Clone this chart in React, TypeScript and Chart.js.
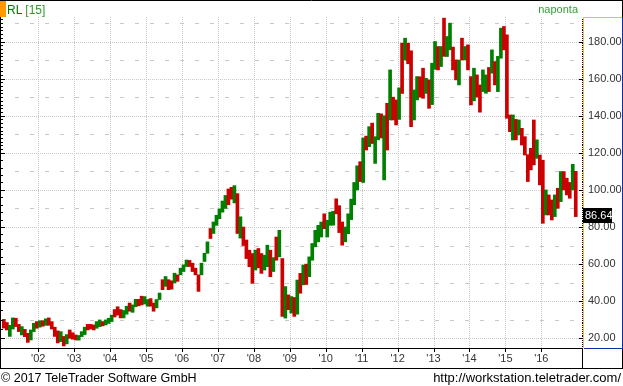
import { useEffect, useRef } from 'react';
import { Chart, registerables } from 'chart.js';

Chart.register(...registerables);

// ---- data (monthly OHLC, Jan 2001 .. Dec 2016) ----
const startYear = 2001;
const yearTicks = [2002, 2003, 2004, 2005, 2006, 2007, 2008, 2009, 2010, 2011, 2012, 2013, 2014, 2015, 2016];
const yearLabels = ["'02", "'03", "'04", "'05", "'06", "'07", "'08", "'09", "'10", "'11", "'12", "'13", "'14", "'15", "'16"];
const priceTicks = [20, 40, 60, 80, 100, 120, 140, 160, 180];
const halfTicks = [30, 50, 70, 90, 110, 130, 150, 170, 190];
const lastPrice = 86.64;
const symbolText = 'RL';
const symbolSuffix = '[15]';
const periodText = 'naponta';
const copyrightText = '\u00A9 2017 TeleTrader Software GmbH';
const urlText = 'http://workstation.teletrader.com/';

const lows = [
  25.5, 24.5, 21, 25, 26.3, 23.6, 21.8, 20.9, 17.8, 19.1, 23.6, 25.4,
  26, 26.5, 27, 27, 25, 21, 17.5, 18.2, 15.9, 17, 20, 19.5,
  19.1, 19, 20.9, 22, 24.5, 25, 24.5, 25.4, 26.3, 26.7, 27.2, 28,
  29, 31.5, 32.5, 31, 31, 33, 34.6, 34, 37, 37.5, 38, 38.5,
  37.3, 37.3, 34.6, 36.4, 40.9, 46.2, 48, 46.2, 46.5, 49.8, 50.7, 54.2,
  56, 58.7, 58.7, 56, 54.2, 45.3, 54.2, 61.4, 65.8, 73.8, 76.5, 80.9,
  84.5, 88, 90, 92, 95, 93, 76.5, 74, 70, 63, 58.6, 49.6,
  56.8, 58, 55, 56.8, 58.6, 53.2, 56, 62.1, 63.9, 31.8, 30.9, 35.4,
  33.6, 31.8, 33, 44.3, 48.8, 49, 53.2, 62.1, 69.3, 72, 74.6, 79.1,
  74.6, 80.9, 81, 87.1, 77, 70.2, 72, 76.4, 84, 92, 100, 104.5,
  104, 121.5, 123.3, 125, 114.3, 127, 128, 105.4, 121.5, 137.7, 137.7, 135,
  138, 152, 170, 168, 134.1, 137.7, 148.5, 150, 149.4, 152, 144, 146,
  165, 164.7, 166.5, 172, 171.9, 175.5, 164.7, 159.3, 156.6, 170, 170.1, 164.7,
  145.8, 148, 150, 141.9, 153, 152.1, 153, 162.9, 156.6, 153, 171, 175.5,
  138.6, 131.4, 126.9, 127, 129.6, 124.2, 118.8, 104.5, 110.8, 113.5, 117, 102.7,
  82, 86.5, 86.5, 83.8, 85.6, 90.1, 93.7, 100, 97.3, 95.5, 100, 85.6,
];
const highs = [
  30.2, 28.5, 27, 31, 30.8, 27.5, 26.3, 24.8, 22.7, 24.5, 28.1, 29,
  29.5, 29.5, 30.5, 31, 29, 26, 24, 23.6, 21, 22, 24.5, 23,
  21.8, 21.5, 23.6, 26, 27.5, 27.5, 27.2, 29, 29.9, 29, 29.9, 30.8,
  32.5, 35.5, 37, 35.5, 35, 37.3, 39, 38, 41, 41, 42.7, 42.5,
  40.9, 41.4, 39, 40.9, 44.4, 51.6, 53.3, 51.6, 51, 55.1, 54.2, 57.8,
  59.6, 62.2, 62, 60.5, 57.8, 54.2, 60.5, 65.8, 72, 79.2, 82.7, 86.3,
  89.8, 94, 97, 100.5, 101.4, 102.3, 98, 85.5, 80, 73, 67.5, 65.7,
  67.5, 68.4, 65.7, 64.8, 70.2, 67.5, 63.5, 74.6, 78.2, 63, 47.9, 43.4,
  42.5, 42, 51.4, 55, 59.5, 60, 63.9, 71.1, 78.2, 80.9, 82.7, 87.1,
  83.6, 88, 88.5, 95.2, 91.5, 82.7, 80, 87.1, 95, 104, 113, 115.2,
  128, 129, 134.1, 136, 128.7, 141.3, 141, 140, 146.7, 164.7, 150, 148.5,
  155, 179.1, 181.8, 179.1, 175, 153.9, 161.1, 161, 165.6, 160.2, 159.3, 168.3,
  180, 177.3, 177.3, 192.6, 182.7, 189.9, 177, 170.1, 170, 181.8, 177.3, 178.2,
  161.1, 165.6, 162, 156.6, 164.7, 162, 166, 175.5, 169.2, 172, 187.2, 188.1,
  183.6, 140.4, 140.4, 138, 137.7, 133.2, 128.7, 119, 122.4, 137.7, 127, 118.8,
  116, 100, 97.3, 94.6, 97.3, 100.9, 109.9, 109.9, 106.3, 104, 113.8, 110,
];
const opens = [
  29.5, 27, 22.5, 26, 30, 27, 22.5, 24.5, 22, 19.5, 24, 28.5,
  26.5, 29, 27.5, 30.5, 28.5, 25.5, 23.5, 19, 20.5, 17.5, 24, 22.5,
  21.5, 19.5, 21, 22.5, 27, 27.2, 27, 25.5, 26.5, 28.8, 27.5, 28.2,
  29.5, 35, 36.5, 35, 31.5, 33.5, 38.5, 34.5, 37.5, 40.5, 42, 39,
  37.5, 41, 38.5, 36.5, 41, 51, 48.5, 51, 50.5, 50, 54, 54.5,
  56.5, 59, 61.5, 60, 57.5, 54, 54.5, 61.5, 66, 79, 77, 81,
  85, 88.5, 91, 100, 100.5, 96, 97.5, 75, 79.5, 72.5, 67, 65,
  58, 66, 64.5, 57.5, 60, 66, 56.5, 74, 64.5, 62.5, 38, 43,
  35, 41, 34, 54, 49.5, 59, 53.5, 63, 70, 73, 75.5, 86.5,
  75.5, 81.5, 82, 94.8, 91, 82, 72.5, 77, 85, 93, 103, 112,
  105, 128, 124, 135, 115, 128, 139, 110, 146, 139, 149, 147,
  139, 178, 171, 178.5, 174, 139, 150, 160, 164, 153, 158.5, 147,
  167, 176.5, 167, 190, 173, 176, 176, 169, 157.5, 181, 171, 177.5,
  160.5, 149, 161.5, 156, 153.5, 153, 165.5, 163.5, 169, 154, 172, 187,
  183, 139.5, 128, 137.5, 130, 133, 128, 118.5, 121.5, 136, 118, 118,
  101, 87, 96.5, 94, 86.5, 100, 94.5, 109, 105.5, 103, 101, 109,
];
const closes = [
  26.5, 25, 26.5, 30, 27, 24.5, 25.5, 21.5, 18.5, 24, 27.5, 26.5,
  29, 27, 30, 28, 25.5, 22, 18.5, 23, 16.5, 21.5, 21, 20,
  19.5, 21, 23.2, 25.5, 25, 25.5, 25, 28.5, 29.5, 27, 29.5, 30.5,
  32, 33.5, 33, 31.5, 34.5, 37, 35, 37.5, 40.5, 38, 38.5, 42,
  40.5, 38, 35, 40.5, 44, 47, 53, 46.5, 47, 54.5, 51, 57.5,
  59, 62, 59, 56.5, 54.5, 46.5, 60, 65.5, 71.5, 74.5, 82, 86,
  89.5, 93.5, 96.5, 93, 96, 101, 78, 84.5, 71, 64, 59.5, 55,
  66, 60, 56.5, 64, 68, 55, 63, 63.5, 77.5, 40, 44, 38,
  41.5, 33, 50.5, 46, 59, 51, 63.5, 70.5, 77.5, 80, 82, 81,
  83, 87.5, 88, 88.5, 79, 72, 79.5, 86.5, 94, 103, 110, 106,
  127, 123, 133, 127, 128, 140, 132, 138, 124, 160, 139, 138,
  154, 170, 180, 170, 140, 152, 160, 151, 152, 159, 146, 167.5,
  179, 167, 176.5, 176, 182, 189, 166, 161, 169, 173, 176.5, 166,
  147, 165, 152, 144, 164, 161, 155, 175, 158, 171, 186.5, 177,
  140, 133, 139, 129, 137, 125, 120, 105.5, 112, 118, 126, 104,
  88, 97, 89, 86, 96, 91.5, 109, 102, 98.5, 97, 111, 86.64,
];

const UP = '#008000';
const DOWN = '#cc0000';
const FONT = '"Liberation Sans", Arial, sans-serif';

const decor = {
  id: 'decor',
  beforeDraw(chart: any) {
    const { ctx, width, height } = chart;
    ctx.save();
    ctx.fillStyle = '#ffffff';
    ctx.fillRect(0, 0, width, height);
    ctx.restore();
  },
  beforeDatasetsDraw(chart: any) {
    const { ctx, chartArea: a, scales } = chart;
    const x = scales.x;
    const y = scales.y;
    ctx.save();
    ctx.strokeStyle = '#c8c8c8';
    ctx.lineWidth = 1;
    ctx.setLineDash([1, 1]);
    ctx.beginPath();
    for (const v of priceTicks) {
      const py = Math.round(y.getPixelForValue(v)) + 0.5;
      ctx.moveTo(a.left, py);
      ctx.lineTo(a.right, py);
    }
    for (const t of yearTicks) {
      const px = Math.round(x.getPixelForValue(t)) + 0.5;
      ctx.moveTo(px, 17);
      ctx.lineTo(px, a.bottom);
    }
    ctx.stroke();
    ctx.setLineDash([4, 11]);
    ctx.beginPath();
    for (const v of halfTicks) {
      const py = Math.round(y.getPixelForValue(v)) + 0.5;
      ctx.moveTo(a.left + 13, py);
      ctx.lineTo(a.right, py);
    }
    ctx.stroke();
    ctx.restore();
  },
  afterDraw(chart: any) {
    const { ctx, chartArea: a, scales, width } = chart;
    const x = scales.x;
    const y = scales.y;
    ctx.save();
    ctx.lineWidth = 1;
    ctx.setLineDash([]);
    const line = (x1: number, y1: number, x2: number, y2: number, c: string) => {
      ctx.strokeStyle = c;
      ctx.beginPath();
      ctx.moveTo(x1, y1);
      ctx.lineTo(x2, y2);
      ctx.stroke();
    };
    const R = a.right; // 583
    const B = a.bottom; // 348
    // outer frame
    line(0, 0.5, width, 0.5, '#000');
    line(0.5, 0, 0.5, B + 20, '#000');
    line(width - 0.5, 0, width - 0.5, 17, '#000');
    // x band
    line(0, B + 0.5, R, B + 0.5, '#000');
    line(0, B + 20.5, width, B + 20.5, '#000');
    line(R - 0.5, B, R - 0.5, B + 20, '#000');
    line(width - 0.5, B, width - 0.5, B + 21, '#000');
    // right axis panel
    line(R + 0.5, 17, R + 0.5, B, '#f0c030');
    line(R, 17.5, width, 17.5, '#f0c030');
    line(width - 0.5, 17, width - 0.5, B + 1, '#1030a0');
    line(R + 1, B + 0.5, width, B + 0.5, '#1030a0');
    // x ticks
    for (const t of yearTicks) {
      const px = Math.round(x.getPixelForValue(t)) + 0.5;
      line(px, B, px, B + 4, '#000');
    }
    // right minor ticks
    for (let v = 15; v <= 200; v += 1) {
      const py = Math.round(y.getPixelForValue(v)) + 0.5;
      if (py < 18) continue;
      const major = v % 20 === 0;
      line(major ? R - 4 : R - 1, py, R, py, '#000');
    }
    // left ticks
    for (let v = 15; v <= 200; v += 1) {
      const step = v < 60 ? 5 : v < 120 ? 4 : 2;
      if (v % step !== 0 && v % 20 !== 0) continue;
      const py = Math.round(y.getPixelForValue(v)) + 0.5;
      if (py < 18) continue;
      line(0, py, v % 20 === 0 ? 5 : 3, py, '#000');
    }
    // header
    ctx.fillStyle = '#ff9900';
    ctx.fillRect(0, 1, 6, 16);
    ctx.textBaseline = 'alphabetic';
    ctx.textAlign = 'left';
    ctx.font = `12px ${FONT}`;
    ctx.fillStyle = '#007800';
    ctx.fillText(symbolText, 7, 14);
    const w1 = ctx.measureText(symbolText).width + 3;
    ctx.fillStyle = '#2f9a2f';
    ctx.fillText(symbolSuffix, 7 + w1, 14);
    ctx.font = `11px ${FONT}`;
    ctx.fillStyle = '#33a033';
    ctx.textAlign = 'right';
    ctx.fillText(periodText, 578, 13);
    // price label
    const py = y.getPixelForValue(lastPrice);
    ctx.fillStyle = '#000';
    ctx.fillRect(R, Math.round(py) - 7, 29, 15);
    ctx.fillStyle = '#fff';
    ctx.textAlign = 'left';
    ctx.textBaseline = 'middle';
    ctx.font = `11px ${FONT}`;
    ctx.fillText(lastPrice.toFixed(2), R + 2, Math.round(py) + 1);
    // footer
    ctx.fillStyle = '#000';
    ctx.textBaseline = 'alphabetic';
    ctx.font = `12.5px ${FONT}`;
    ctx.textAlign = 'left';
    ctx.fillText(copyrightText, 1, 382);
    ctx.font = `13px ${FONT}`;
    ctx.textAlign = 'right';
    ctx.fillText(urlText, 621, 382);
    ctx.restore();
  },
};

export default function App() {
  const ref = useRef<HTMLCanvasElement>(null);
  useEffect(() => {
    const data = lows.map((l, i) => ({ x: startYear + (i + 0.5) / 12, y: [l, highs[i]] }));
    const colors = lows.map((_, i) => (closes[i] >= opens[i] ? UP : DOWN));
    const chart = new Chart(ref.current as HTMLCanvasElement, {
      type: 'bar',
      data: {
        datasets: [
          {
            data: data as any,
            backgroundColor: colors,
            borderWidth: 0,
            barThickness: 3,
            grouped: false,
          } as any,
        ],
      },
      plugins: [decor],
      options: {
        animation: false,
        responsive: false,
        devicePixelRatio: 1,
        layout: { padding: { left: 2, top: 2, right: 1, bottom: 18 } },
        plugins: { legend: { display: false }, tooltip: { enabled: false } },
        scales: {
          x: {
            type: 'linear',
            offset: false,
            min: 2000.99,
            max: 2017.16,
            position: 'bottom',
            grid: { display: false, drawTicks: false, offset: false },
            border: { display: false },
            afterBuildTicks: (s: any) => {
              s.ticks = yearTicks.map((v) => ({ value: v }));
            },
            afterFit: (s: any) => {
              s.height = 20;
              s.paddingLeft = 0;
              s.paddingRight = 0;
            },
            ticks: {
              autoSkip: false,
              maxRotation: 0,
              padding: 4,
              color: '#333',
              font: { family: FONT, size: 11 },
              callback: (v: any) => yearLabels[yearTicks.indexOf(Number(v))] ?? '',
            },
          },
          y: {
            type: 'linear',
            position: 'right',
            min: 14.77,
            max: 201.3,
            grid: { display: false, drawTicks: false },
            border: { display: false },
            afterBuildTicks: (s: any) => {
              s.ticks = priceTicks.map((v) => ({ value: v }));
            },
            afterFit: (s: any) => {
              s.width = 39;
              s.paddingTop = 0;
              s.paddingBottom = 0;
            },
            ticks: {
              padding: 5,
              color: '#333',
              font: { family: FONT, size: 11 },
              callback: (v: any) => Number(v).toFixed(2),
            },
          },
        },
      },
    } as any);
    return () => chart.destroy();
  }, []);
  return (
    <div style={{ position: 'fixed', left: 0, top: 0, width: 623, height: 386, background: '#fff' }}>
      <canvas ref={ref} width={623} height={386} style={{ display: 'block', width: 623, height: 386 }} />
    </div>
  );
}
